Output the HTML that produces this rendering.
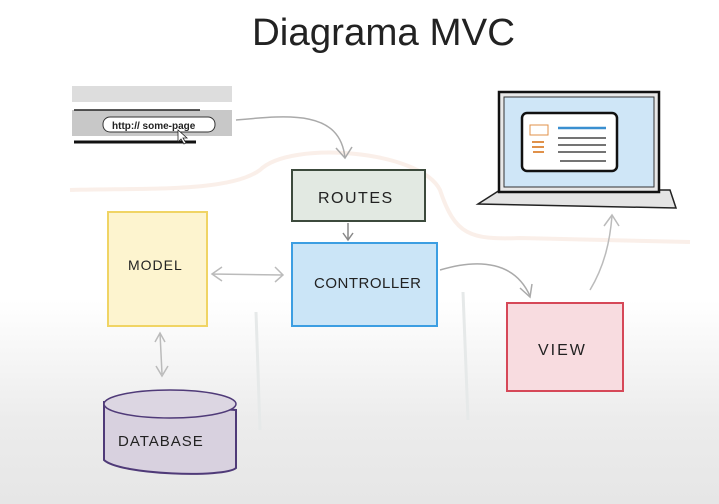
<!DOCTYPE html>
<html><head><meta charset="utf-8"><style>
html,body{margin:0;padding:0;width:719px;height:504px;overflow:hidden}
body{background:linear-gradient(#fff 0px,#fff 300px,#ececec 420px,#e6e6e6 504px)}
svg{display:block}
text{font-family:"Liberation Sans",sans-serif;fill:#222}
</style></head><body>
<svg width="719" height="504" viewBox="0 0 719 504">
<text x="252" y="45" font-size="38" textLength="263" lengthAdjust="spacingAndGlyphs" fill="#3a3a3a">Diagrama MVC</text>
<path d="M70 190 C150 188 230 192 260 170 C290 140 420 150 440 190 C455 235 470 240 520 238 L690 242" fill="none" stroke="#f8e8e0" stroke-width="4" opacity="0.7"/>
<path d="M256 312 L260 430" stroke="#e6e9e9" stroke-width="3"/>
<path d="M463 292 L468 420" stroke="#e6e9e9" stroke-width="3"/>
<rect x="72" y="86" width="160" height="16" fill="#ddd"/>
<rect x="72" y="110" width="160" height="26" fill="#c8c8c8"/>
<line x1="74" y1="110" x2="200" y2="110" stroke="#222" stroke-width="1.5"/>
<line x1="74" y1="142" x2="196" y2="142" stroke="#111" stroke-width="3"/>
<rect x="103" y="117" width="112" height="15" rx="7" fill="#fff" stroke="#333" stroke-width="1"/>
<text x="112" y="129" font-size="10" font-weight="bold" fill="#222">http:// some-page</text>
<path d="M178 130 l0 12 l3 -3 l3 5 l2 -1 l-3 -5 l4 0 z" fill="#fff" stroke="#222" stroke-width="0.8"/>
<path d="M236 120 C290 115 340 110 345 158" fill="none" stroke="#aaa" stroke-width="1.5"/>
<path d="M336 148 L345 158 L352 147" fill="none" stroke="#aaa" stroke-width="1.5"/>
<rect x="292" y="170" width="133" height="51" fill="#e2e9e2" stroke="#3c4a3c" stroke-width="2"/>
<text x="318" y="203" font-size="16" letter-spacing="1.5">ROUTES</text>
<path d="M348 223 L348 240 M343 233 L348 240 L353 233" fill="none" stroke="#888" stroke-width="1.5"/>
<rect x="292" y="243" width="145" height="83" fill="#cbe5f7" stroke="#3c9ee2" stroke-width="2"/>
<text x="314" y="288" font-size="15" letter-spacing="0.5">CONTROLLER</text>
<rect x="108" y="212" width="99" height="114" fill="#fdf4cf" stroke="#f0d464" stroke-width="2"/>
<text x="128" y="270" font-size="14" letter-spacing="1">MODEL</text>
<path d="M212 274 L283 275 M222 267 L212 274 L222 281 M275 267 L283 275 L275 282" fill="none" stroke="#bbb" stroke-width="1.5"/>
<path d="M160 333 L162 374 M155 342 L160 333 L165 342 M156 366 L162 376 L168 366" fill="none" stroke="#bbb" stroke-width="1.5"/>
<path d="M104 402 L104 460 C120 475 225 478 236 468 L236 410 Z" fill="#d8d1df" stroke="#4f3a78" stroke-width="2"/>
<ellipse cx="170" cy="404" rx="66" ry="14" fill="#dcd6e2" stroke="#4f3a78" stroke-width="1.5"/>
<text x="118" y="446" font-size="15" letter-spacing="1">DATABASE</text>
<rect x="507" y="303" width="116" height="88" fill="#f8dce0" stroke="#d64858" stroke-width="2"/>
<text x="538" y="355" font-size="16" letter-spacing="2">VIEW</text>
<path d="M440 270 C480 258 515 262 530 296" fill="none" stroke="#aaa" stroke-width="1.5"/>
<path d="M520 288 L530 297 L532 284" fill="none" stroke="#aaa" stroke-width="1.5"/>
<path d="M590 290 C605 265 610 240 612 216" fill="none" stroke="#bbb" stroke-width="1.5"/>
<path d="M604 226 L612 215 L619 226" fill="none" stroke="#bbb" stroke-width="1.5"/>
<path d="M478 204 L500 190 L670 190 L676 208 Z" fill="#e4e4e4" stroke="#222" stroke-width="1.5"/>
<rect x="499" y="92" width="160" height="100" fill="#e8e8e8" stroke="#111" stroke-width="2.5"/>
<rect x="504" y="97" width="150" height="90" fill="#cfe6f7" stroke="#333" stroke-width="1"/>
<rect x="522" y="113" width="95" height="58" rx="5" fill="#fff" stroke="#111" stroke-width="2.5"/>
<rect x="530" y="125" width="18" height="10" fill="none" stroke="#e0914a" stroke-width="1"/>
<path d="M532 142 h12 M532 147 h12 M533 152 h11" stroke="#e0914a" stroke-width="2"/>
<path d="M558 128 h48" stroke="#3a8fd0" stroke-width="2.5"/>
<path d="M558 138 h48 M558 145 h48 M558 152 h48 M560 161 h46" stroke="#222" stroke-width="1.3"/>
</svg>
</body></html>
